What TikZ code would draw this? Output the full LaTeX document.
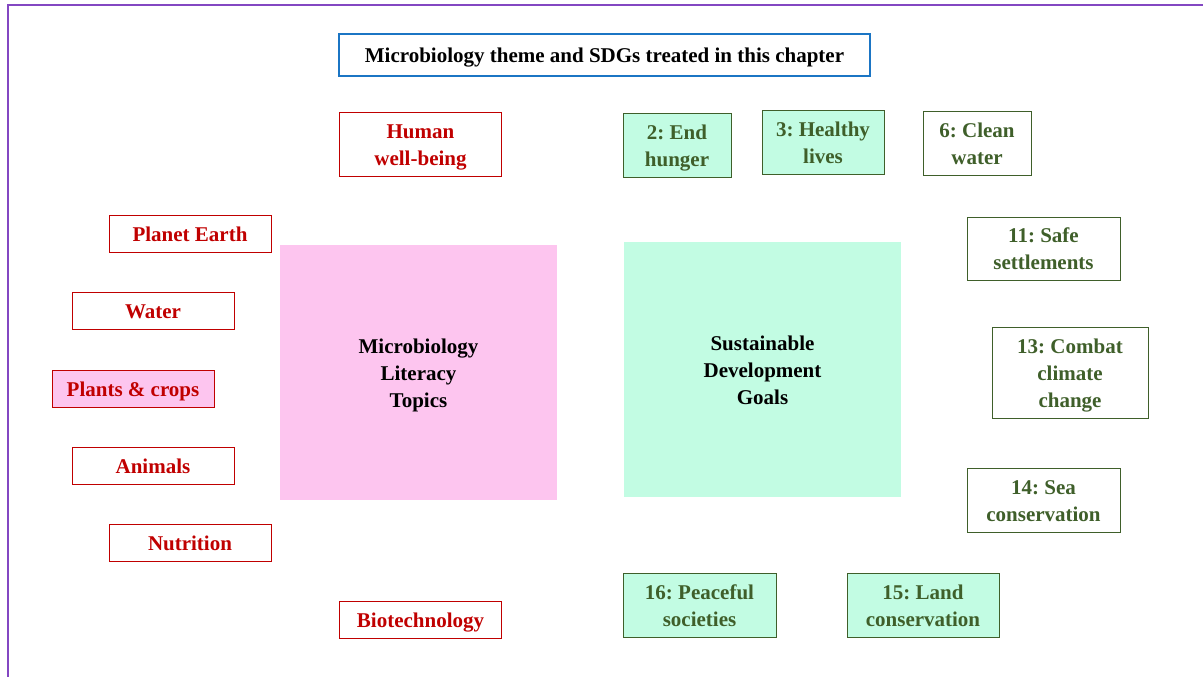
\documentclass[tikz,border=0pt]{standalone}
\usepackage{fontspec}
\setmainfont{Liberation Serif}
\usetikzlibrary{positioning}
\definecolor{topicred}{HTML}{C00000}
\definecolor{sdggreen}{HTML}{3F5F2A}
\definecolor{sdgfill}{HTML}{C2FCE3}
\definecolor{topicfill}{HTML}{FDC5EF}
\definecolor{titleblue}{HTML}{1B75C4}
\definecolor{framepurple}{HTML}{8347C2}
\frenchspacing
\begin{document}
\begin{tikzpicture}[x=1pt, y=-1pt,
  every node/.style={inner sep=0pt, align=center, font=\fontsize{21}{27}\selectfont\bfseries,
    execute at begin node={\rule[-5.7pt]{0pt}{26.7pt}}},
  tworow/.style={execute at begin node={\rule[-5.7pt]{0pt}{53.7pt}}},
  threerow/.style={execute at begin node={\rule[-5.7pt]{0pt}{80.7pt}}},
  topic/.style={rectangle, draw=topicred, line width=1pt, text=topicred, minimum width=162pt, minimum height=37pt},
  sdg/.style={rectangle, draw=sdggreen, line width=1pt, text=sdggreen, minimum height=64pt, tworow},
  sdgon/.style={sdg, fill=sdgfill},
  big/.style={rectangle, minimum width=277pt, minimum height=255pt, threerow}]
\useasboundingbox (0,0) rectangle (1203,677);
\clip (0,0) rectangle (1203,677);
\draw[framepurple, line width=2pt] (8,5) rectangle (1230,700);
% title
\node[draw=titleblue, line width=2pt, minimum width=531pt, minimum height=42pt] (title) at (604.5,55) {Microbiology theme and SDGs treated in this chapter};
% central blocks
\node[big, fill=topicfill] (mlt) at (418.5,372.5) {Microbiology\\Literacy\\Topics};
\node[big, fill=sdgfill] (sdgs) at (762.5,369.5) {Sustainable\\Development\\Goals};
% literacy topics
\node[topic, minimum height=64pt, tworow] (human) at (420.5,144) {Human\\well-being};
\node[topic] (earth) at (190,234) {Planet Earth};
\node[topic] (water) at (153,311) {Water};
\node[topic, fill=topicfill] (plants) at (133,388.5) {Plants \& crops};
\node[topic] (animals) at (153,465.5) {Animals};
\node[topic] (nutrition) at (190,542.5) {Nutrition};
\node[topic] (biotech) at (420.5,619.5) {Biotechnology};
% goals
\node[sdgon, minimum width=108pt] (g2) at (677,145) {2: End\\hunger};
\node[sdgon, minimum width=122pt] (g3) at (823,142) {3: Healthy\\lives};
\node[sdg, minimum width=108pt] (g6) at (977,143.5) {6: Clean\\water};
\node[sdg, minimum width=153pt, minimum height=63pt] (g11) at (1043.5,248.5) {11: Safe\\settlements};
\node[sdg, minimum width=156pt, minimum height=91pt, threerow] (g13) at (1070,372.5) {13: Combat\\climate\\change};
\node[sdg, minimum width=153pt] (g14) at (1043.5,500) {14: Sea\\conservation};
\node[sdgon, minimum width=153pt] (g16) at (699.5,605) {16: Peaceful\\societies};
\node[sdgon, minimum width=152pt] (g15) at (923,605) {15: Land\\conservation};
\end{tikzpicture}
\end{document}
